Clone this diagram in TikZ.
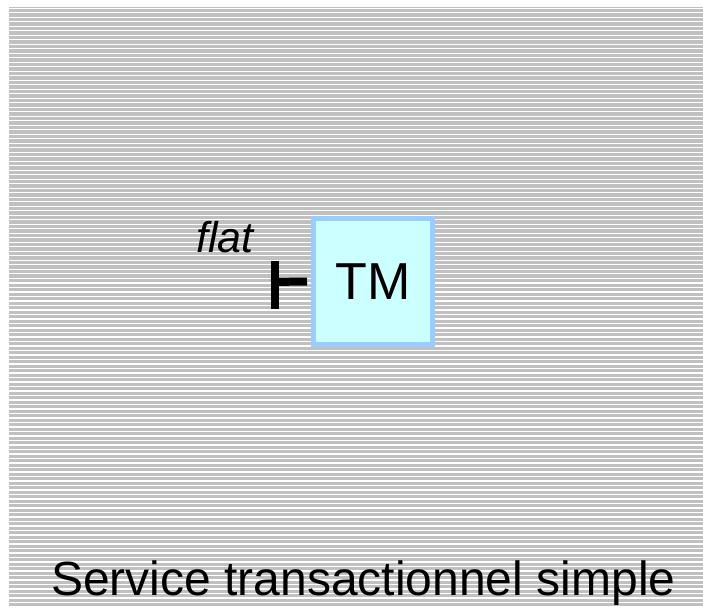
\documentclass[tikz,border=0pt]{standalone}
\usepackage{fontspec}
\setmainfont{Liberation Sans}
\definecolor{bggray}{HTML}{C0C0C0}
\definecolor{tmborder}{HTML}{99CCFF}
\definecolor{tmfill}{HTML}{CCFFFF}
\begin{document}
\begin{tikzpicture}[x=1pt,y=-1pt,
  tmbox/.style={draw=tmborder, fill=tmfill, line width=5pt, minimum width=119pt, minimum height=126pt, inner sep=0pt, font=\fontsize{52}{62}\selectfont},
  turnbar/.style={line width=8pt, black},
  stripe/.style={white, line width=1.4pt}]
\useasboundingbox (0,0) rectangle (703,609);
\fill[bggray] (9,7) rectangle (703,608);
\foreach \k in {0,...,133} {
  \draw[stripe] (9,{8.3+4.5*\k}) -- (703,{8.3+4.5*\k});
}
\node[tmbox] (tm) at (373,281.5) {TM};
\coordinate (bartop) at (275,261);
\coordinate (barbot) at (275,309);
\coordinate (barmid) at (271,282);
\draw[turnbar] (bartop) -- (barbot);
\draw[turnbar] (barmid) -- ([xshift=-4pt]tm.west);
\node[anchor=base west, inner sep=0pt, font=\fontsize{43}{52}\selectfont\itshape] (flat) at (196,253) {flat};
\node[anchor=base west, inner sep=0pt, font=\fontsize{48}{58}\selectfont] (title) at (51,595) {Service transactionnel simple};
\end{tikzpicture}
\end{document}
